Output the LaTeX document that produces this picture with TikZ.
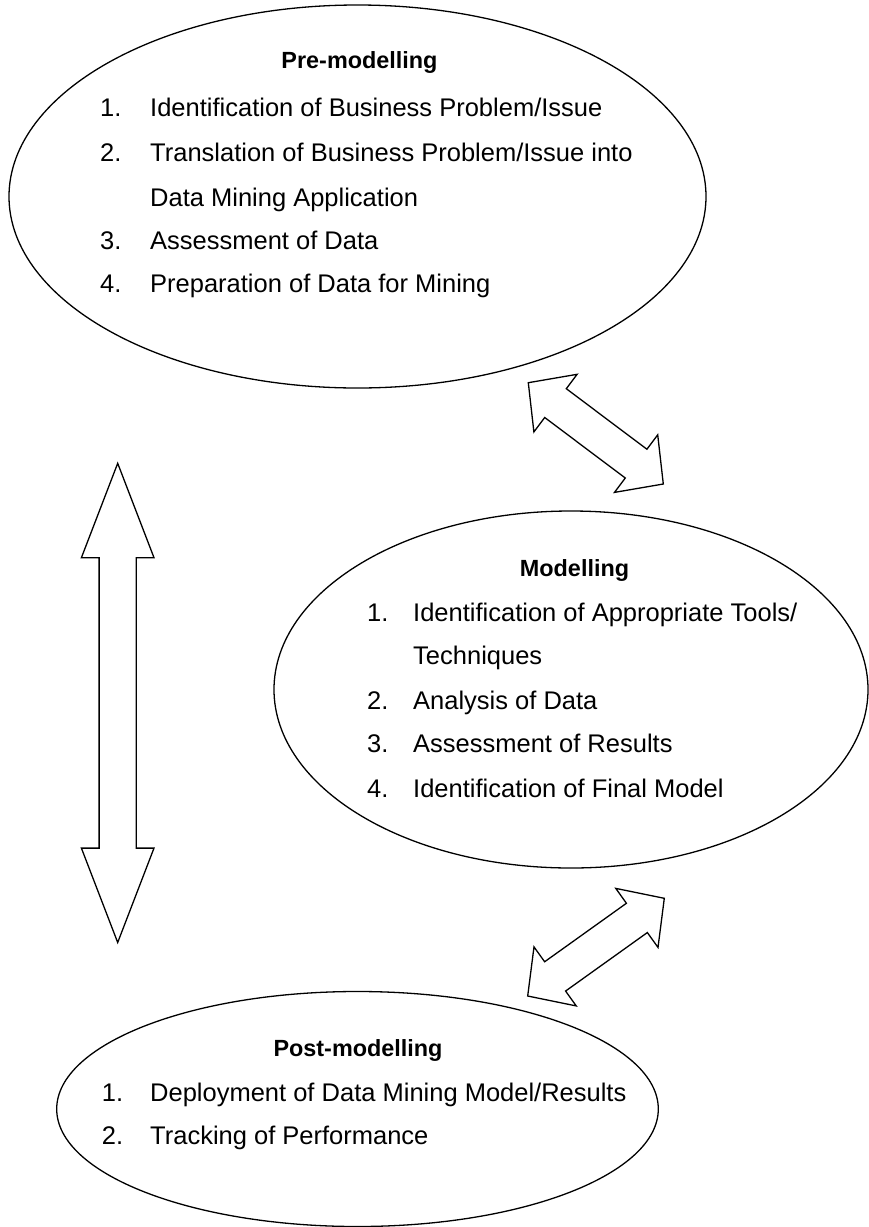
\documentclass[tikz,border=0pt]{standalone}
\usepackage{fontspec}
\setmainfont{Liberation Sans}
\usetikzlibrary{calc,shapes.geometric}
\tikzset{
  phase/.style={draw, ellipse, line width=1.3pt, inner sep=0pt},
  ttl/.style={anchor=base, inner sep=0pt, font=\fontsize{23.4}{28}\selectfont\bfseries},
  num/.style={anchor=base west, inner sep=0pt, font=\fontsize{25.5}{30}\selectfont},
  itm/.style={anchor=base west, inner sep=0pt, font=\fontsize{25.5}{30}\selectfont},
  barrow/.style={draw, line width=1.3pt, line join=miter, fill=white},
}
% double block arrow between two named tips: #3 head length, #4 head half width, #5 shaft half width
\newcommand\dblblock[5]{%
  \draw[barrow] (#1)
    -- ($(#1)!#3!(#2)!#4!90:(#2)$)
    -- ($(#1)!#3!(#2)!#5!90:(#2)$)
    -- ($(#2)!#3!(#1)!#5!-90:(#1)$)
    -- ($(#2)!#3!(#1)!#4!-90:(#1)$)
    -- (#2)
    -- ($(#2)!#3!(#1)!#4!90:(#1)$)
    -- ($(#2)!#3!(#1)!#5!90:(#1)$)
    -- ($(#1)!#3!(#2)!#5!-90:(#2)$)
    -- ($(#1)!#3!(#2)!#4!-90:(#2)$)
    -- cycle;}
\begin{document}
\begin{tikzpicture}[x=1pt,y=-1pt]
\useasboundingbox[fill=white] (0,0) rectangle (869,1227);

% ellipses
\node[phase, minimum width=697pt, minimum height=383pt] (pre) at (357.5,196.5) {};
\node[phase, minimum width=594pt, minimum height=357pt] (mod) at (571,689.5) {};
\node[phase, minimum width=601.6pt, minimum height=235pt] (post) at (357.5,1109) {};

% Pre-modelling text
\node[ttl] (preT) at (359.5,68.5) {Pre-modelling};
\node[num] (preN1) at (100,116) {1.};
\node[itm] (preI1) at (150,116) {Identification of Business Problem/Issue};
\node[num] (preN2) at (100,161) {2.};
\node[itm] (preI2) at (150,161) {Translation of Business Problem/Issue into};
\node[itm] (preI2b) at (150,206) {Data Mining Application};
\node[num] (preN3) at (100,249) {3.};
\node[itm] (preI3) at (150,249) {Assessment of Data};
\node[num] (preN4) at (100,292) {4.};
\node[itm] (preI4) at (150,292) {Preparation of Data for Mining};

% Modelling text
\node[ttl] (modT) at (574.5,576.5) {Modelling};
\node[num] (modN1) at (367,621) {1.};
\node[itm] (modI1) at (413,621) {Identification of Appropriate Tools/};
\node[itm] (modI1b) at (413,664) {Techniques};
\node[num] (modN2) at (367,709) {2.};
\node[itm] (modI2) at (413,709) {Analysis of Data};
\node[num] (modN3) at (367,752) {3.};
\node[itm] (modI3) at (413,752) {Assessment of Results};
\node[num] (modN4) at (367,797) {4.};
\node[itm] (modI4) at (413,797) {Identification of Final Model};

% Post-modelling text
\node[ttl] (postT) at (358,1056.5) {Post-modelling};
\node[num] (postN1) at (101.7,1101) {1.};
\node[itm] (postI1) at (150,1101) {Deployment of Data Mining Model/Results};
\node[num] (postN2) at (101.7,1144) {2.};
\node[itm] (postI2) at (150,1144) {Tracking of Performance};

% block arrows
\coordinate (a1s) at (528.3,382.7);
\coordinate (a1e) at (663.3,484);
\coordinate (a2s) at (117.7,463.3);
\coordinate (a2e) at (117.7,942.5);
\coordinate (a3s) at (527.7,996);
\coordinate (a3e) at (664.3,898.3);
\dblblock{a1s}{a1e}{34pt}{36pt}{18pt}
\dblblock{a2s}{a2e}{94.4pt}{36.3pt}{18.6pt}
\dblblock{a3s}{a3e}{33.7pt}{36.3pt}{18pt}
\end{tikzpicture}
\end{document}
